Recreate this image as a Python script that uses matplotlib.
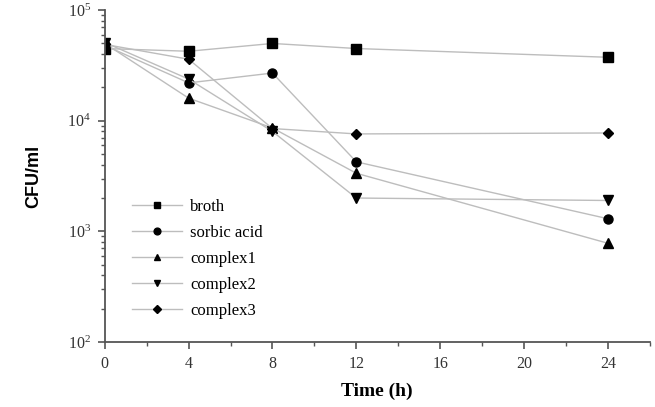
import matplotlib
matplotlib.use("Agg")
import matplotlib.pyplot as plt
from matplotlib.ticker import LogLocator, LogFormatterMathtext, MultipleLocator, NullFormatter

plt.rcParams["mathtext.fontset"] = "custom"
plt.rcParams["mathtext.rm"] = "Liberation Serif"
plt.rcParams["font.family"] = "Liberation Serif"

# Dados
tempo = [0, 4, 8, 12, 24]
broth = [45000, 42500, 50000, 45000, 37500]
sorbic = [48000, 22000, 27000, 4250, 1300]
complex1 = [50000, 16000, 8600, 3350, 780]
complex2 = [51000, 23800, 8000, 2000, 1900]
complex3 = [49000, 36000, 8500, 7600, 7750]

series = [
    ("broth", broth, "s"),
    ("sorbic acid", sorbic, "o"),
    ("complex1", complex1, "^"),
    ("complex2", complex2, "v"),
    ("complex3", complex3, "D"),
]

fig = plt.figure(figsize=(6.55, 4.07), dpi=100)
ax = fig.add_axes([0.160, 0.160, 0.832, 0.815])

for nome, valores, m in series:
    ms = 5 if m == "D" else 6.5
    ax.plot(tempo, valores, color="#bdbdbd", linewidth=1.0, marker=m,
            markersize=ms, markerfacecolor="black", markeredgecolor="black",
            label=nome)

ax.set_yscale("log")
ax.set_ylim(100, 100000)
ax.set_xlim(0, 26)

ax.xaxis.set_major_locator(MultipleLocator(4))
ax.xaxis.set_minor_locator(MultipleLocator(2))
ax.yaxis.set_major_locator(LogLocator(base=10))
ax.yaxis.set_major_formatter(LogFormatterMathtext())
ax.yaxis.set_minor_locator(LogLocator(base=10, subs=range(2, 10)))
ax.yaxis.set_minor_formatter(NullFormatter())

for lado in ["top", "right"]:
    ax.spines[lado].set_visible(False)
for lado in ["left", "bottom"]:
    ax.spines[lado].set_linewidth(1.3)
    ax.spines[lado].set_color("#555555")

ax.tick_params(which="major", direction="out", length=5, width=1.2,
               labelsize=11.5, colors="#555555", labelcolor="#333333", pad=5)
ax.tick_params(which="minor", direction="out", length=3, width=1.0,
               colors="#555555")

ax.set_xlabel("Time (h)", fontsize=14, fontweight="bold", labelpad=8)
ax.set_ylabel("CFU/ml", fontsize=13, fontweight="bold",
              fontfamily="Liberation Sans", labelpad=18)

ax.legend(loc="upper left", bbox_to_anchor=(0.05, 0.43), frameon=False,
          fontsize=12, handlelength=3.0, handletextpad=0.5, labelspacing=0.6,
          borderpad=0, borderaxespad=0, markerscale=0.75)

fig.savefig("out.png", dpi=100)
